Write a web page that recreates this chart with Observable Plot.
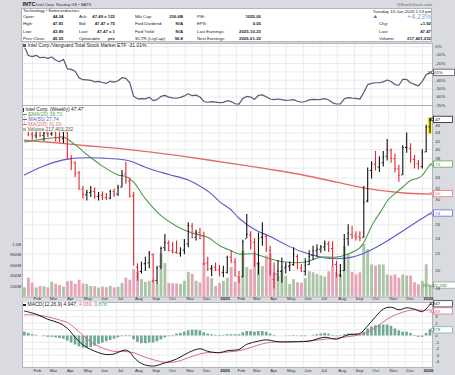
<!DOCTYPE html>
<html>
<head>
<meta charset="utf-8">
<script src="https://cdn.jsdelivr.net/npm/d3@7"></script>
<script src="https://cdn.jsdelivr.net/npm/@observablehq/plot@0.6"></script>
<style>
html,body{margin:0;padding:0;background:#d9dbe1;}
#chart{position:relative;width:455px;height:375px;overflow:hidden;background:#d9dbe1;font-family:"Liberation Sans",Arial,sans-serif;color:#222;}
#chart .abs{position:absolute;white-space:nowrap;line-height:1;}
#chart svg{position:absolute;left:0;overflow:visible;}
.sw{display:inline-block;vertical-align:middle;margin-right:1.5px;}
</style>
</head>
<body>
<div id="chart"></div>
<script>
// ---------------- DATA ----------------
const openP = [47.6,48.3,43.7,43.3,44.6,43.4,44.0,43.8,44.4,42.8,
42.6,44.3,38.0,37.1,35.0,31.9,30.9,31.3,31.5,30.6,
30.8,30.4,30.3,31.5,31.0,32.3,34.8,33.4,30.7,20.4,
19.9,20.8,20.9,21.9,18.9,20.5,22.8,23.4,22.4,22.2,
22.1,22.5,23.3,25.8,24.2,24.9,24.4,20.9,20.2,20.4,
20.1,19.8,19.8,21.6,21.0,19.3,19.3,24.0,24.5,23.5,
20.8,24.2,24.3,22.5,19.0,19.6,19.9,20.3,20.5,20.7,
21.7,20.3,19.9,20.7,21.8,22.4,22.6,22.9,23.3,22.7,
20.7,19.5,20.0,24.0,24.6,24.4,24.3,24.2,29.8,35.5,
36.8,36.2,37.1,38.5,39.8,38.0,35.8,34.6,40.5,40.3,
37.8,36.9,36.3,39.5,45.6];
const highP = [48.6,50.2,44.3,44.8,45.0,44.7,44.6,45.0,44.8,44.2,
45.4,45.0,38.6,37.3,35.3,32.4,31.7,32.4,32.1,31.3,
31.4,31.1,31.7,31.9,32.6,35.5,37.2,34.0,31.3,20.8,
21.0,21.6,22.3,22.0,20.5,22.9,24.6,23.7,23.5,23.7,
22.8,23.9,26.3,26.2,25.2,25.5,24.9,21.6,20.6,20.9,
20.6,20.5,21.7,22.4,21.4,19.9,23.8,27.6,25.0,24.0,
24.8,26.3,24.6,23.0,20.9,21.2,21.5,20.9,21.0,22.8,
21.9,20.7,21.4,22.4,23.0,23.2,23.1,23.7,23.6,23.6,
21.1,20.7,24.6,26.0,25.8,25.0,25.0,32.4,36.0,37.3,
39.6,38.4,39.6,42.4,40.2,39.0,36.6,40.9,44.0,41.4,
38.7,37.6,40.0,46.0,47.81];
const lowP = [46.1,43.1,42.2,42.5,42.8,42.0,42.9,43.2,41.8,41.6,
41.4,37.9,35.5,34.1,31.8,30.1,29.8,30.4,30.1,29.8,
29.9,29.9,30.0,30.4,30.6,32.1,32.8,30.3,20.5,18.8,
19.6,19.9,20.2,18.6,18.5,20.1,22.3,22.3,22.0,22.0,
21.6,21.9,22.8,24.0,23.7,23.9,20.6,19.9,19.3,19.9,
19.3,19.2,19.6,20.8,19.3,18.6,19.2,24.0,22.5,20.4,
19.5,23.0,22.2,19.4,18.0,18.8,18.6,19.6,19.9,20.5,
20.1,19.8,19.4,20.6,21.2,21.6,22.1,22.3,22.2,20.5,
19.3,19.2,19.9,23.0,23.9,23.7,23.6,24.1,29.5,33.8,
35.4,35.1,36.2,37.5,37.0,35.0,33.2,34.5,39.2,37.0,
35.8,35.6,35.8,39.3,43.89];
const closeP = [48.1,43.6,43.3,44.6,43.4,44.0,43.7,44.5,42.7,42.5,
44.2,38.0,37.2,35.0,31.9,30.9,31.3,31.5,30.6,30.8,
30.5,30.2,31.5,31.0,32.2,34.6,33.6,30.6,21.5,19.9,
20.8,20.9,22.0,18.9,20.3,22.7,23.5,22.4,22.2,22.1,
22.5,23.2,25.9,24.2,24.9,24.0,20.9,20.2,20.3,20.1,
19.7,19.7,21.5,21.2,19.4,19.2,23.6,24.6,23.7,21.5,
24.0,24.4,22.7,19.9,19.6,19.9,20.4,20.5,20.6,21.9,
20.3,19.9,20.6,21.7,22.4,22.6,22.9,23.3,22.6,20.7,
19.3,19.9,23.9,24.8,24.4,24.2,24.1,29.6,35.5,36.8,
36.4,37.0,38.3,40.0,38.1,35.9,34.5,40.5,40.5,37.8,
36.9,36.2,39.4,45.5,47.47];
// weekly volume, millions
const volumeM = [175,360,265,175,200,195,175,280,240,220,
190,290,300,240,320,250,240,200,195,170,
190,180,205,175,185,260,360,320,520,470,
330,280,300,320,250,820,640,260,250,250,
240,300,470,430,300,270,640,380,350,200,
260,300,360,560,280,340,870,560,520,860,
650,580,780,820,460,400,520,400,240,330,
270,265,350,480,460,430,400,380,480,590,
460,420,960,820,470,420,460,1000,900,610,
590,610,610,420,400,420,360,420,400,400,
270,235,300,615,217.4];
// Intel / VTI relative performance, %
const relPerf = [0,-10.5,-11.8,-10.3,-13.1,-12.6,-13.9,-12.3,-15.8,-17.9,
-14.9,-26.3,-27.0,-29.3,-37.1,-39.3,-39.5,-40.1,-41.8,-41.2,
-42.6,-43.6,-41.2,-42.1,-40.6,-36.9,-37.8,-42.9,-59.1,-62.0,
-61.8,-62.1,-60.1,-64.2,-63.0,-59.2,-58.0,-60.0,-60.9,-61.4,
-60.3,-58.6,-56.0,-58.3,-57.7,-59.9,-65.2,-66.1,-65.3,-65.9,
-66.5,-66.3,-64.3,-65.3,-67.9,-68.3,-61.5,-59.2,-60.0,-62.8,
-57.8,-57.4,-59.6,-62.3,-63.1,-62.3,-63.0,-63.9,-63.6,-63.0,
-64.9,-66.1,-65.2,-63.3,-62.7,-63.0,-62.6,-61.9,-63.4,-66.8,
-68.2,-68.1,-62.0,-60.7,-61.2,-61.5,-62.4,-54.4,-45.2,-43.7,
-42.9,-42.9,-41.9,-39.7,-41.5,-45.1,-45.9,-38.8,-39.0,-42.9,
-44.9,-46.6,-41.4,-33.3,-31.01];
// moving averages: [week index, value]
const ema20 = [[0,41.8],[4,42.4],[8,42.9],[10,43.0],[11,42.5],[14,40.4],[16,38.9],[20,36.4],[24,34.6],[26,34.3],[28,33.2],[31,30.2],[35,27.4],[39,25.8],[43,24.8],[47,24.2],[50,23.1],[53,22.4],[55,22.0],[59,22.0],[63,21.4],[67,21.0],[72,21.0],[76,21.6],[80,21.6],[83,22.0],[86,22.8],[87,23.5],[88,24.6],[89,25.8],[90,26.8],[92,28.7],[93,29.8],[95,31.1],[97,32.3],[99,33.5],[101,34.0],[102,34.5],[103,35.6],[104,36.73]];
const ma50 = [[0,34.6],[4,36.1],[8,37.3],[12,38.0],[16,38.2],[20,38.1],[24,37.9],[27,37.5],[30,36.5],[33,35.6],[37,34.7],[42,33.6],[46,32.0],[48,31.0],[50,29.7],[53,28.3],[55,27.0],[59,25.3],[63,24.3],[67,23.2],[71,22.3],[76,21.6],[80,21.4],[84,21.6],[88,22.3],[93,23.7],[97,25.1],[101,26.6],[104,27.74]];
const ma200 = [[0,42.2],[8,41.6],[16,40.9],[24,40.3],[32,39.5],[40,38.6],[48,37.6],[56,36.6],[64,35.6],[72,34.5],[80,33.2],[88,32.0],[96,31.3],[104,31.0]];
// MACD(12,26,9)
const macdLine = [[0,3.9],[3,3.4],[6,2.6],[9,2.0],[11,1.2],[13,-0.2],[15,-1.4],[17,-2.1],[19,-2.6],[21,-2.9],[23,-2.8],[25,-2.3],[26,-2.2],[27,-2.5],[28,-3.3],[30,-4.3],[33,-4.7],[36,-4.2],[39,-3.6],[42,-2.6],[45,-2.0],[47,-2.4],[50,-2.6],[52,-2.3],[55,-2.1],[57,-1.3],[60,-0.8],[62,-0.6],[65,-0.9],[70,-0.9],[73,-0.8],[77,-0.2],[80,-0.5],[83,0.2],[86,0.4],[88,1.6],[90,3.0],[92,4.2],[94,4.5],[96,4.1],[98,4.4],[100,4.2],[102,3.8],[104,4.947]];
const signalLine = [[0,3.3],[3,3.3],[6,3.0],[9,2.5],[11,2.1],[13,1.2],[15,0.1],[17,-0.9],[19,-1.6],[21,-2.1],[23,-2.4],[25,-2.4],[28,-2.6],[30,-3.1],[33,-3.7],[36,-4.1],[39,-4.0],[42,-3.4],[45,-2.8],[47,-2.6],[50,-2.6],[52,-2.5],[55,-2.3],[57,-2.0],[60,-1.4],[62,-1.1],[65,-0.9],[70,-0.85],[73,-0.8],[77,-0.5],[80,-0.35],[83,-0.1],[86,0.2],[88,0.6],[90,1.3],[92,2.2],[94,3.0],[96,3.5],[98,3.9],[100,4.1],[102,4.0],[104,4.069]];
const macdHist = [0.6,0.4,0.2,0.1,0.0,-0.1,-0.2,-0.2,-0.3,-0.4,
-0.5,-0.8,-1.1,-1.4,-1.7,-1.9,-1.9,-1.8,-1.6,-1.3,
-1.1,-0.9,-0.7,-0.5,-0.3,-0.1,0.1,-0.1,-0.6,-1.0,
-1.2,-1.2,-1.1,-1.1,-0.9,-0.6,-0.3,-0.1,0.1,0.3,
0.4,0.6,0.8,0.9,0.9,0.8,0.5,0.3,0.2,0.1,
0.1,0.1,0.2,0.2,0.2,0.2,0.5,0.7,0.7,0.6,
0.7,0.7,0.6,0.3,0.1,0.0,0.0,0.05,0.05,0.1,
0.05,-0.1,-0.1,0.0,0.1,0.2,0.3,0.4,0.3,0.1,
-0.1,-0.1,0.2,0.3,0.3,0.3,0.2,0.6,1.1,1.4,
1.6,1.7,1.7,1.7,1.5,1.1,0.8,0.6,0.6,0.4,
0.1,-0.2,-0.2,0.4,0.878];
const priceTicks = [18,20,22,24,26,28,30,32,34,36,38,40,42,44,46];
const volTicks = [200,400,600,800,1000];
const volTickLabels = ["200M","400M","600M","800M","1.0B"];
const rsTicks = [0,-10,-20,-30,-40,-50,-60,-70];
const macdTicks = [-4,-3,-2,-1,0,1,2,3,4];

// ---------------- SETUP ----------------
const chart = document.getElementById("chart");
const FONT = '"Liberation Sans", Arial, sans-serif';
const W = 455, ML = 22, MR = 23, XR = W - MR;
const DAY = 864e5;
const at = (d, days) => new Date(+d + days * DAY);
const X0 = new Date(Date.UTC(2024, 0, 14)), X1 = new Date(Date.UTC(2026, 0, 18, 20));
const weeks = d3.utcMonday.range(new Date(Date.UTC(2024, 0, 15)), new Date(Date.UTC(2026, 0, 13)));
const months = d3.utcMonth.range(new Date(Date.UTC(2024, 1, 1)), X1);
const bars = weeks.map((d, i) => ({date: d, mid: at(d, 2.5), o: openP[i], h: highP[i], l: lowP[i], c: closeP[i], v: volumeM[i], up: i === 0 || closeP[i] >= closeP[i - 1]}));
const pts = arr => arr.map(([i, v]) => ({x: at(weeks[i], 2.5), y: v}));
const xOpt = {type: "utc", domain: [X0, X1], axis: null};
const gridStyle = {stroke: "#e1e2e7", strokeWidth: 0.7};
const C = {ema: "#4f9d4f", ma50: "#5b5bd0", ma200: "#e56b6b", rs: "#565c74", up: "#111", down: "#e3262d", vup: "#a9c5a6", vdown: "#e8a4b7", hist: "#6fa995", macd: "#1a1a1a", sig: "#de6a88"};

function mk(opts) {
  return Plot.plot(Object.assign({width: W, marginLeft: ML, marginRight: MR, marginTop: 0, marginBottom: 0,
    style: {background: "transparent", overflow: "visible", fontFamily: FONT}}, opts));
}
function place(svg, top) { svg.style.position = "absolute"; svg.style.left = "0px"; svg.style.top = top + "px"; chart.appendChild(svg); return svg; }
function txt(str, x, y, o = {}) {
  const size = o.size || 4.3;
  const s = document.createElement("div");
  s.className = "abs"; s.textContent = str;
  s.style.fontSize = size + "px"; s.style.fontWeight = o.weight || "normal"; s.style.color = o.color || "#222";
  s.style.top = (y - size * 0.55) + "px";
  if (o.anchor === "end") s.style.right = (W - x) + "px"; else s.style.left = x + "px";
  chart.appendChild(s); return s;
}
function box(svg, y, label, color, o = {}) {
  const g = d3.select(svg).append("g");
  const w = o.w || 19;
  if (o.dot !== false) g.append("circle").attr("cx", XR + 0.3).attr("cy", y).attr("r", 1.3).attr("fill", "white").attr("stroke", color).attr("stroke-width", 0.6);
  g.append("rect").attr("x", XR + 1.6).attr("y", y - 3.1).attr("width", w).attr("height", 6.2).attr("fill", o.fill || "white").attr("stroke", color).attr("stroke-width", 0.7);
  g.append("text").attr("x", XR + 2.6).attr("y", y).attr("dy", "0.36em").attr("font-size", 4.4).attr("font-family", FONT).attr("fill", o.text || color).text(label);
}

// ---------------- HEADER ----------------
const hdr = document.createElement("div");
hdr.className = "abs";
Object.assign(hdr.style, {left: "21px", top: "8px", width: "411px", height: "33.5px", background: "white", border: "0.6px solid #b3b5bd", boxSizing: "border-box"});
chart.appendChild(hdr);
txt("INTC", 22.5, 4.8, {size: 5.6, weight: "bold"});
txt("Intel Corp.  Nasdaq GS \u2022 BATS", 36, 5, {size: 4.1, color: "#333"});
txt("@StockCharts.com", 432, 5, {size: 4.1, color: "#666", anchor: "end"});
txt("Technology / Semiconductors", 23, 11.7, {size: 4.3});
const infoCols = [
  {lx: 23, vx: 63.5, rows: [["Open:", "44.24"], ["High:", "47.81"], ["Low:", "43.89"], ["Prev Close:", "45.55"]]},
  {lx: 79, vx: 115, rows: [["Ask:", "47.49 x 125"], ["Bid:", "47.47 x 75"], ["Last:", "47.47 x 1"], ["Optionable:", "yes"]]},
  {lx: 135, vx: 183, rows: [["Mkt Cap:", "236.6B"], ["Fwd Dividend:", "N/A"], ["Fwd Yield:", "N/A"], ["SCTR (LrgCap):", "96.8"]]},
  {lx: 197, vx: 261, rows: [["P/E:", "1055.00"], ["EPS:", "0.05"], ["Last Earnings:", "2025-10-23"], ["Next Earnings:", "2026-01-22"]]}
];
const rowY = [17.5, 24.8, 32.1, 39.2];
infoCols.forEach(col => col.rows.forEach(([l, v], r) => {
  txt(l, col.lx, rowY[r], {size: 4.3});
  txt(v, col.vx, rowY[r], {size: 4.3, weight: "bold", anchor: "end"});
}));
txt("Tuesday 13-Jan-2026 1:53 pm", 431, 12.3, {size: 4.3, anchor: "end"});
txt("\u25B2", 372.5, 17.2, {size: 5.5, color: "#4b6fb8"});
txt("+4.23%", 431, 17, {size: 7, color: "#7f9dd6", anchor: "end"});
[["Chg:", "+1.92"], ["Last:", "47.47"], ["Volume:", "217,401,232"]].forEach(([l, v], r) => {
  txt(l, 379, rowY[r + 1], {size: 4.3});
  txt(v, 431, rowY[r + 1], {size: 4.3, weight: "bold", anchor: "end"});
});

// ---------------- RELATIVE PERFORMANCE PANEL ----------------
const rsData = weeks.map((d, i) => ({x: at(d, 2.5), y: relPerf[i]}));
const rsPlot = mk({height: 62, x: xOpt, y: {domain: [-70, 3.8], axis: null}, marks: [
  Plot.frame({fill: "white", stroke: "none"}),
  Plot.ruleX(months, gridStyle),
  Plot.ruleY(rsTicks, gridStyle),
  Plot.line(rsData, {x: "x", y: "y", stroke: C.rs, strokeWidth: 1.2}),
  Plot.text(rsTicks.filter(t => t !== -30), {y: d => d, frameAnchor: "right", textAnchor: "start", dx: 2.8, text: d => d + "%", fontSize: 4.3, fill: "#333"}),
  Plot.frame({stroke: "#9a9ca6", strokeWidth: 0.7})
]});
place(rsPlot, 42.5);
box(rsPlot, rsPlot.scale("y").apply(-31.01), "-31.01%", "#444", {w: 21, text: "#222"});

// ---------------- PRICE PANEL ----------------
const PTOP = 104.5, PH = 191.5;
const priceY = {type: "log", domain: [17.19, 51.52], axis: null};
const yS = Plot.scale({y: Object.assign({}, priceY, {range: [PH, 0]})});
const priceBoxes = [[47.47, "#000"], [36.73, C.ema], [31.00, C.ma200], [27.74, C.ma50]];
const shownTicks = priceTicks.filter(t => priceBoxes.every(([v]) => Math.abs(yS.apply(t) - yS.apply(v)) > 4.6));
const bgPlot = mk({height: PH, x: xOpt, y: priceY, marks: [
  Plot.frame({fill: "white", stroke: "none"}),
  Plot.ruleX(months, gridStyle),
  Plot.ruleY(priceTicks, gridStyle)
]});
place(bgPlot, PTOP);
// volume overlay (own scale)
const volPlot = mk({height: PH, x: xOpt, y: {domain: [0, 3648], axis: null}, marks: [
  Plot.rect(bars, {x1: d => at(d.date, 0.9), x2: d => at(d.date, 6.0), y1: 0, y2: "v", fill: d => d.up ? C.vup : C.vdown}),
  Plot.text(volTicks, {y: d => d, frameAnchor: "left", textAnchor: "end", dx: -1.5, text: (d, i) => volTickLabels[i], fontSize: 4.3, fill: "#333"})
], color: {type: "identity"}});
place(volPlot, PTOP);
const last = bars[bars.length - 1];
const upBars = bars.filter(d => d.up), dnBars = bars.filter(d => !d.up);
const barMarks = (data, col) => [
  Plot.ruleX(data, {x: "mid", y1: "l", y2: "h", stroke: col, strokeWidth: 1.1}),
  Plot.ruleY(data, {y: "o", x1: d => at(d.date, 0.4), x2: "mid", stroke: col, strokeWidth: 1}),
  Plot.ruleY(data, {y: "c", x1: "mid", x2: d => at(d.date, 4.6), stroke: col, strokeWidth: 1})
];
const pricePlot = mk({height: PH, x: xOpt, y: priceY, marks: [
  Plot.rect([last], {x1: d => at(d.date, -0.9), x2: d => at(d.date, 5.9), y1: d => d.l * 0.992, y2: d => d.h * 1.006, fill: "#f4ec1c"}),
  Plot.line(pts(ma200), {x: "x", y: "y", stroke: C.ma200, strokeWidth: 1.4, curve: "catmull-rom"}),
  Plot.line(pts(ma50), {x: "x", y: "y", stroke: C.ma50, strokeWidth: 1.1, curve: "catmull-rom"}),
  Plot.line(pts(ema20), {x: "x", y: "y", stroke: C.ema, strokeWidth: 1.1, curve: "catmull-rom"}),
  ...barMarks(upBars, C.up),
  ...barMarks(dnBars, C.down),
  Plot.text(shownTicks, {y: d => d, frameAnchor: "right", textAnchor: "start", dx: 2.8, text: d => String(d), fontSize: 4.3, fill: "#333"}),
  Plot.frame({stroke: "#9a9ca6", strokeWidth: 0.7})
]});
place(pricePlot, PTOP);
const py = pricePlot.scale("y");
priceBoxes.forEach(([v, col]) => box(pricePlot, py.apply(v), v.toFixed(2), col, {text: col === "#000" ? "#000" : col}));
box(volPlot, volPlot.scale("y").apply(217.4), "217,401,232", "#7fa07c", {w: 26, text: "#3f5f3d", dot: false});

// ---------------- MONTH LABEL ROWS ----------------
const monLab = d => d.getUTCMonth() === 0 ? String(d.getUTCFullYear()) : d3.utcFormat("%b")(d);
function monthRow(top, h) {
  const p = mk({height: h, x: xOpt, marks: [
    Plot.text(months.filter(d => d.getUTCMonth() !== 0), {x: d => d, frameAnchor: "middle", textAnchor: "start", dx: 1, text: monLab, fontSize: 4.4, fill: "#333"}),
    Plot.text(months.filter(d => d.getUTCMonth() === 0), {x: d => d, frameAnchor: "middle", textAnchor: "start", dx: 1, text: monLab, fontSize: 4.4, fontWeight: "bold", fill: "#222"})
  ]});
  place(p, top);
}
monthRow(296, 5);
monthRow(367, 6);

// ---------------- MACD PANEL ----------------
const histData = weeks.map((d, i) => ({date: d, v: macdHist[i]}));
const macdPlot = mk({height: 65, x: xOpt, y: {domain: [-4.92, 5.23], axis: null}, marks: [
  Plot.frame({fill: "white", stroke: "none"}),
  Plot.ruleX(months, gridStyle),
  Plot.ruleY(macdTicks, gridStyle),
  Plot.rect(histData, {x1: d => at(d.date, 0.8), x2: d => at(d.date, 5.6), y1: 0, y2: "v", fill: C.hist}),
  Plot.line(pts(signalLine), {x: "x", y: "y", stroke: C.sig, strokeWidth: 1, curve: "catmull-rom"}),
  Plot.line(pts(macdLine), {x: "x", y: "y", stroke: C.macd, strokeWidth: 1, curve: "catmull-rom"}),
  Plot.text(macdTicks.filter(t => t !== 4 && t !== 1), {y: d => d, frameAnchor: "right", textAnchor: "start", dx: 2.8, text: d => String(d), fontSize: 4.3, fill: "#333"}),
  Plot.frame({stroke: "#9a9ca6", strokeWidth: 0.7})
]});
place(macdPlot, 301.5);
const my = macdPlot.scale("y");
box(macdPlot, my.apply(4.947), "4.947", "#222", {text: "#111"});
box(macdPlot, my.apply(4.069) + 1.5, "4.069", C.sig);
box(macdPlot, my.apply(0.878), "0.878", C.hist, {text: "#3d7a66"});

// ---------------- LEGENDS ----------------
function legend(x, y, parts, size = 5) {
  const d = document.createElement("div");
  d.className = "abs";
  d.style.left = x + "px"; d.style.top = (y - size * 0.6) + "px"; d.style.fontSize = size + "px";
  d.style.background = "rgba(255,255,255,0.85)";
  parts.forEach(p => {
    const s = document.createElement("span");
    if (p.sw) { s.className = "sw"; s.style.width = (p.w || 4) + "px"; s.style.height = (p.h || 1) + "px"; s.style.background = p.sw; }
    else { s.textContent = p.t; s.style.color = p.c || "#222"; }
    d.appendChild(s);
  });
  chart.appendChild(d);
}
legend(23, 45.8, [{sw: C.rs, w: 3, h: 2.5}, {t: "Intel Corp./Vanguard Total Stock Market ETF -31.01%"}]);
legend(23, 110.2, [{sw: "#333", w: 1, h: 4}, {t: "Intel Corp. (Weekly) 47.47"}]);
legend(23, 115.1, [{sw: C.ema, w: 4, h: 1}, {t: "EMA(20) 36.73", c: C.ema}]);
legend(23, 120, [{sw: C.ma50, w: 4, h: 1}, {t: "MA(50) 27.74", c: C.ma50}]);
legend(23, 124.9, [{sw: C.ma200, w: 4, h: 1}, {t: "MA(200) 31.00", c: C.ma200}]);
legend(23, 129.8, [{sw: C.vup, w: 3, h: 3}, {t: "Volume 217,401,232", c: "#3f5f3d"}]);
legend(23, 305.2, [{sw: "#222", w: 3, h: 2}, {t: "MACD(12,26,9) 4.947, "}, {t: "4.069, ", c: C.sig}, {t: "0.878", c: "#3d9a7a"}]);
</script>
</body>
</html>
